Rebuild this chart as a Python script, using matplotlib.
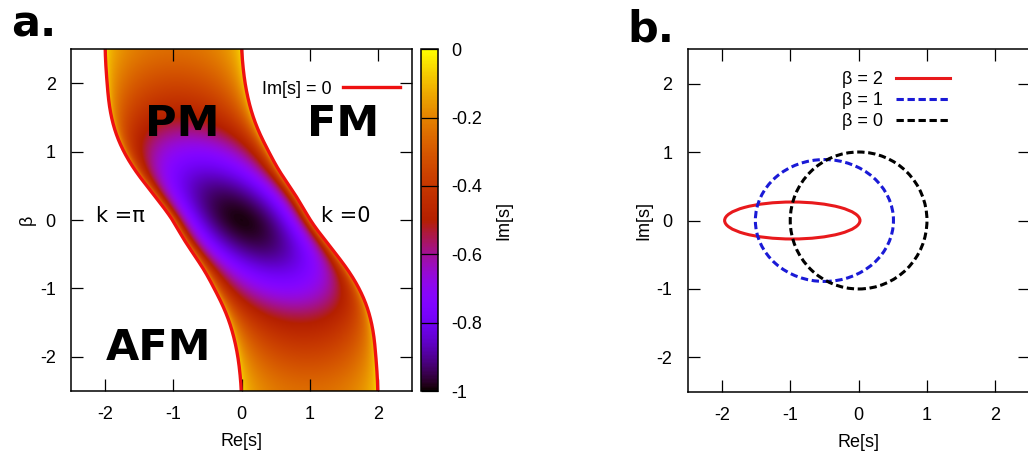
import matplotlib
matplotlib.use("Agg")
import matplotlib.pyplot as plt
from matplotlib.lines import Line2D
from matplotlib.patches import Ellipse
import numpy as np

plt.rcParams["font.family"] = ["Liberation Sans", "DejaVu Sans"]
plt.rcParams["axes.unicode_minus"] = False

# ---- panel a: band where Im[s] != 0 for beta >= 0
beta_pos = [0.0, 0.25, 0.5, 0.75, 1.0, 1.25, 1.5, 1.75, 2.0, 2.25, 2.5]
left_edge = [-1.0, -1.19, -1.39, -1.58, -1.73, -1.84, -1.91, -1.95, -1.97, -1.99, -2.0]
right_edge = [1.0, 0.87, 0.70, 0.53, 0.40, 0.27, 0.17, 0.10, 0.05, 0.02, 0.0]
im_depth = [1.0, 0.97, 0.91, 0.82, 0.72, 0.61, 0.50, 0.42, 0.35, 0.29, 0.24]

region_labels = ["PM", "FM", "AFM"]
region_re = [-0.87, 1.49, -1.22]
region_beta = [1.40, 1.40, -1.87]

k_labels = ["k =\u03c0", "k =0"]
k_re = [-1.77, 1.53]
k_beta = [0.06, 0.06]

cbar_ticks = [0, -0.2, -0.4, -0.6, -0.8, -1]
axis_ticks = [-2, -1, 0, 1, 2]

# ---- panel b: Im[s] vs Re[s] loops
loop_beta = [2, 1, 0]
loop_center = [-0.97, -0.50, 0.0]
loop_re_radius = [0.99, 1.01, 1.0]
loop_im_radius = [0.27, 0.89, 1.0]
loop_color = ["#e8191c", "#1a1ad6", "black"]
loop_style = ["-", (0, (2.4, 1.2)), (0, (2.4, 1.2))]


def mirrored_tables():
    b = np.array(beta_pos)
    lo = np.array(left_edge)
    hi = np.array(right_edge)
    d = np.array(im_depth)
    beta_full = np.concatenate([-b[::-1], b[1:]])
    lo_full = np.concatenate([-hi[::-1], lo[1:]])
    hi_full = np.concatenate([-lo[::-1], hi[1:]])
    d_full = np.concatenate([d[::-1], d[1:]])
    return beta_full, lo_full, hi_full, d_full


def smooth_curve(fine, xs, ys, sigma=0.12):
    # piecewise-linear through the read values, then a light gaussian blur
    y = np.interp(fine, xs, ys)
    step = fine[1] - fine[0]
    n = int(3 * sigma / step)
    t = np.arange(-n, n + 1) * step
    ker = np.exp(-0.5 * (t / sigma) ** 2)
    ker /= ker.sum()
    return np.convolve(np.pad(y, n, mode="edge"), ker, mode="valid")


def style_axes(ax):
    ax.set_xlim(-2.5, 2.5)
    ax.set_ylim(-2.5, 2.5)
    ax.set_xticks(axis_ticks)
    ax.set_yticks(axis_ticks)
    ax.tick_params(direction="in", length=8.5, width=0.9, top=True, right=True,
                   labelsize=13, pad=11)
    for sp in ax.spines.values():
        sp.set_linewidth(1.1)


def main():
    fig = plt.figure(figsize=(10.28, 4.61), dpi=100)
    W, H = 1028, 461
    ax_a = fig.add_axes([71 / W, 70 / H, 341 / W, 341.7 / H])
    cax = fig.add_axes([420.7 / W, 70 / H, 17 / W, 341.7 / H])
    ax_b = fig.add_axes([687.7 / W, 69.3 / H, 341.8 / W, 342.4 / H])

    # heat map of Im[s]
    beta_full, lo_full, hi_full, d_full = mirrored_tables()
    fine = np.linspace(-2.5, 2.5, 1001)
    lo_s = smooth_curve(fine, beta_full, lo_full)
    hi_s = smooth_curve(fine, beta_full, hi_full)
    d_s = smooth_curve(fine, beta_full, d_full)

    re_grid = np.linspace(-2.5, 2.5, 900)
    beta_grid = np.linspace(-2.5, 2.5, 900)
    lo_row = np.interp(beta_grid, fine, lo_s)
    hi_row = np.interp(beta_grid, fine, hi_s)
    d_row = np.interp(beta_grid, fine, d_s)
    center = 0.5 * (lo_row + hi_row)[:, None]
    half = 0.5 * (hi_row - lo_row)[:, None]
    u = (re_grid[None, :] - center) / half
    field = -d_row[:, None] * np.clip(1 - u ** 2, 0, None) ** 0.42
    field = np.ma.masked_where(np.abs(u) >= 1, field)

    cmap = plt.get_cmap("gnuplot").copy()
    cmap.set_bad("white")
    im = ax_a.imshow(field, origin="lower", extent=[-2.5, 2.5, -2.5, 2.5],
                     cmap=cmap, vmin=-1, vmax=0, aspect="auto",
                     interpolation="bilinear")

    line, = ax_a.plot(lo_s, fine, color="#ee1111", lw=2.4, label="Im[s] = 0")
    ax_a.plot(hi_s, fine, color="#ee1111", lw=2.4)

    for txt, x, y in zip(region_labels, region_re, region_beta):
        ax_a.text(x, y, txt, ha="center", va="center", fontsize=31,
                  fontweight="bold", family="DejaVu Sans")
    for txt, x, y in zip(k_labels, k_re, k_beta):
        ax_a.text(x, y, txt, ha="center", va="center", fontsize=15,
                  family="DejaVu Sans")

    style_axes(ax_a)
    ax_a.set_xlabel("Re[s]", fontsize=13, labelpad=7)
    ax_a.set_ylabel("\u03b2", fontsize=13, labelpad=3)
    ax_a.legend(handles=[line], loc="center right",
                bbox_to_anchor=(0.965, 0.883), markerfirst=False,
                frameon=False, fontsize=13, handlelength=3.15,
                handletextpad=0.62, borderpad=0, borderaxespad=0)

    cb = fig.colorbar(im, cax=cax, ticks=cbar_ticks)
    cb.ax.set_yticklabels([f"{t:g}" for t in cbar_ticks])
    cb.ax.tick_params(direction="in", length=12.2, width=0.9, labelsize=13,
                      pad=9.4)
    cb.outline.set_linewidth(1.1)
    cb.set_label("Im[s]", fontsize=13, labelpad=10)

    # panel b loops
    handles = []
    for b, c, rx, ry, col, ls in zip(loop_beta, loop_center, loop_re_radius,
                                     loop_im_radius, loop_color, loop_style):
        ax_b.add_patch(Ellipse((c, 0), 2 * rx, 2 * ry, fill=False,
                               edgecolor=col, lw=2.2, linestyle=ls))
        handles.append(Line2D([], [], color=col, lw=2.2, linestyle=ls,
                              label=f"\u03b2 = {b}"))
    style_axes(ax_b)
    ax_b.set_xlabel("Re[s]", fontsize=13, labelpad=7)
    ax_b.set_ylabel("Im[s]", fontsize=13, labelpad=3)
    ax_b.legend(handles=handles, loc="upper right",
                bbox_to_anchor=(0.767, 0.936), markerfirst=False,
                frameon=False, fontsize=13, handlelength=3.0,
                handletextpad=0.7, borderpad=0, borderaxespad=0,
                labelspacing=0.22)

    fig.text(11 / W, 1 - 36.7 / H, "a.", fontsize=31, fontweight="bold",
             family="DejaVu Sans", va="baseline")
    fig.text(627 / W, 1 - 41.7 / H, "b.", fontsize=31, fontweight="bold",
             family="DejaVu Sans", va="baseline")

    fig.savefig("out.png", dpi=100)


if __name__ == "__main__":
    main()
